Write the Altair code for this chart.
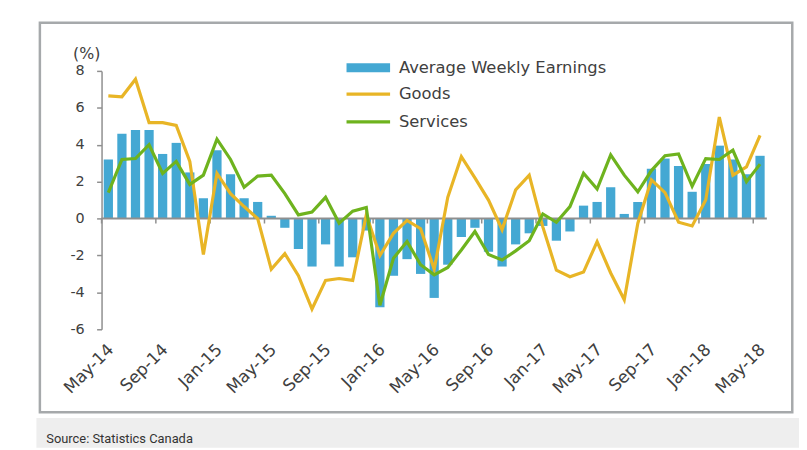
import altair as alt
import pandas as pd

months = list(pd.date_range("2014-05-01", periods=49, freq="MS").strftime("%b-%y"))
tick_months = months[::4]
y_ticks = [-6, -4, -2, 0, 2, 4, 6, 8]

earnings = [3.2, 4.6, 4.8, 4.8, 3.5, 4.1, 2.5, 1.1, 3.7, 2.4, 1.1, 0.9,
            0.15, -0.5, -1.65, -2.6, -1.4, -2.6, -2.1, -0.65, -4.8, -3.1, -2.2, -3.0,
            -4.3, -2.5, -1.0, -0.5, -1.8, -2.6, -1.4, -0.8, -0.4, -1.2, -0.7, 0.7,
            0.9, 1.7, 0.25, 0.9, 2.7, 3.25, 2.85, 1.45, 2.95, 3.95, 3.2, 2.4, 3.4]
goods = [6.65, 6.6, 7.55, 5.2, 5.2, 5.05, 3.1, -1.95, 2.45, 1.35, 0.65, 0.0,
         -2.75, -1.9, -3.1, -4.9, -3.35, -3.25, -3.35, 0.2, -2.0, -0.8, -0.1, -0.55,
         -2.75, 1.15, 3.35, 2.2, 1.0, -0.6, 1.55, 2.35, -0.45, -2.8, -3.15, -2.9,
         -1.25, -2.95, -4.4, -0.25, 2.1, 1.4, -0.2, -0.4, 1.0, 5.5, 2.35, 2.8, 4.5]
services = [1.4, 3.2, 3.25, 4.0, 2.45, 3.1, 1.85, 2.35, 4.3, 3.2, 1.7, 2.3,
            2.35, 1.35, 0.2, 0.35, 1.15, -0.25, 0.4, 0.6, -4.7, -2.15, -1.25, -2.5,
            -3.05, -2.65, -1.7, -0.7, -1.95, -2.25, -1.75, -1.2, 0.25, -0.2, 0.65, 2.45,
            1.6, 3.45, 2.35, 1.45, 2.6, 3.4, 3.5, 1.75, 3.25, 3.2, 3.7, 2.0, 2.95]

bar_name = "Average Weekly Earnings"
line_names = ["Goods", "Services"]
bar_color = "#44a8d3"
line_colors = ["#e8b526", "#6eb31e"]

TEXT = "#404040"
AXIS = "#8f8f8f"
FONT = "DejaVu Sans"

bars_df = pd.DataFrame({"month": months, "value": earnings, "series": bar_name})
lines_df = pd.DataFrame({
    "month": months * 2,
    "value": goods + services,
    "series": [line_names[0]] * len(months) + [line_names[1]] * len(months),
})
ticks_df = pd.DataFrame({"month": tick_months})
deco = pd.DataFrame({"k": [0]})

xscale = alt.Scale(domain=months, paddingInner=0, paddingOuter=0)
yscale = alt.Scale(domain=[-6, 8], nice=False, zero=False)

x_axis = alt.Axis(values=tick_months, labelAngle=315, labelAlign="right",
                  labelBaseline="top", domain=False, ticks=False, tickSize=0,
                  labelPadding=12, labelOffset=-3, labelFontSize=17, labelFont=FONT,
                  labelColor=TEXT, grid=False, labelOverlap=False)
y_axis = alt.Axis(values=y_ticks, title="(%)", titleAngle=0, titleX=-15.5, titleY=-13,
                  titleAlign="center", titleBaseline="alphabetic", titleFontSize=16,
                  titleFont=FONT, titleFontWeight="normal", titleColor=TEXT,
                  labelExpr="datum.value < 0 ? '-' + abs(datum.value) : '' + datum.value",
                  labelOverlap=False, labelFontSize=14.5, labelFont=FONT, labelColor=TEXT,
                  labelPadding=12.5, tickSize=5, tickColor=AXIS, tickWidth=1.5,
                  domainColor=AXIS, domainWidth=1.5, grid=False)

x_enc = alt.X("month:O", scale=xscale, sort=months, title=None, axis=x_axis)
y_enc = alt.Y("value:Q", scale=yscale, axis=y_axis)

frame = alt.Chart(deco).mark_rect(fill="transparent", stroke="#a6a9ab", strokeWidth=2.5).encode(
    x=alt.value(-62.3), x2=alt.value(697.7), y=alt.value(-48.6), y2=alt.value(344.7)
)
band = alt.Chart(deco).mark_rect(fill="#eeeeee").encode(
    x=alt.value(-65.8), x2=alt.value(704.5), y=alt.value(350.7), y2=alt.value(380.7)
)
source = alt.Chart(deco).mark_text(
    text="Source: Statistics Canada", align="left", baseline="alphabetic",
    font="Roboto", fontSize=13, color="#333333"
).encode(x=alt.value(-55.8), y=alt.value(375.7))

bars = alt.Chart(bars_df).mark_bar(width={"band": 0.68}).encode(
    x=x_enc,
    y=y_enc,
    fill=alt.Fill("series:N", scale=alt.Scale(domain=[bar_name], range=[bar_color]),
                  legend=alt.Legend(orient="none", legendX=261.2, legendY=-11.5, title=None,
                                    symbolType="M-4.4,-0.9H4.4V0.9H-4.4Z", symbolSize=100,
                                    symbolStrokeWidth=0, labelFontSize=16.5, labelFont=FONT,
                                    labelColor=TEXT, labelOffset=22.7, labelLimit=400,
                                    padding=0)),
)

zero = alt.Chart(deco).mark_rule(color=AXIS, strokeWidth=2).encode(
    y=alt.Y(datum=0, scale=yscale, axis=y_axis)
)

ticks = alt.Chart(ticks_df).mark_rule(color=AXIS, strokeWidth=1.5, y2Offset=5).encode(
    x=alt.X("month:O", scale=xscale, sort=months, bandPosition=0, axis=x_axis, title=None),
    y=alt.Y(datum=0, scale=yscale, axis=y_axis),
    y2=alt.datum(0),
)

lines = alt.Chart(lines_df).mark_line(strokeWidth=3.2).encode(
    x=x_enc,
    y=y_enc,
    stroke=alt.Stroke("series:N", scale=alt.Scale(domain=line_names, range=line_colors),
                      legend=alt.Legend(orient="none", legendX=261.2, legendY=15.2, title=None,
                                        symbolType="M-4.4,0H4.4", symbolSize=100,
                                        symbolStrokeWidth=3.2, labelFontSize=16.5, labelFont=FONT,
                                        labelColor=TEXT, labelOffset=22.7, rowPadding=11,
                                        labelLimit=400, padding=0)),
    detail="series:N",
)

chart = alt.layer(band, frame, bars, zero, ticks, lines, source).resolve_legend(
    fill="independent", stroke="independent"
).properties(
    width=672, height=261,
    autosize=alt.AutoSizeParams(type="none"),
    padding={"left": 94.5, "top": 61.3, "right": 32.5, "bottom": 119.7},
    background="white",
).configure(font=FONT).configure_view(stroke=None).configure_axis(labelOverlap=False)

chart.save("out.html", embed_options={"renderer": "svg", "actions": False})
